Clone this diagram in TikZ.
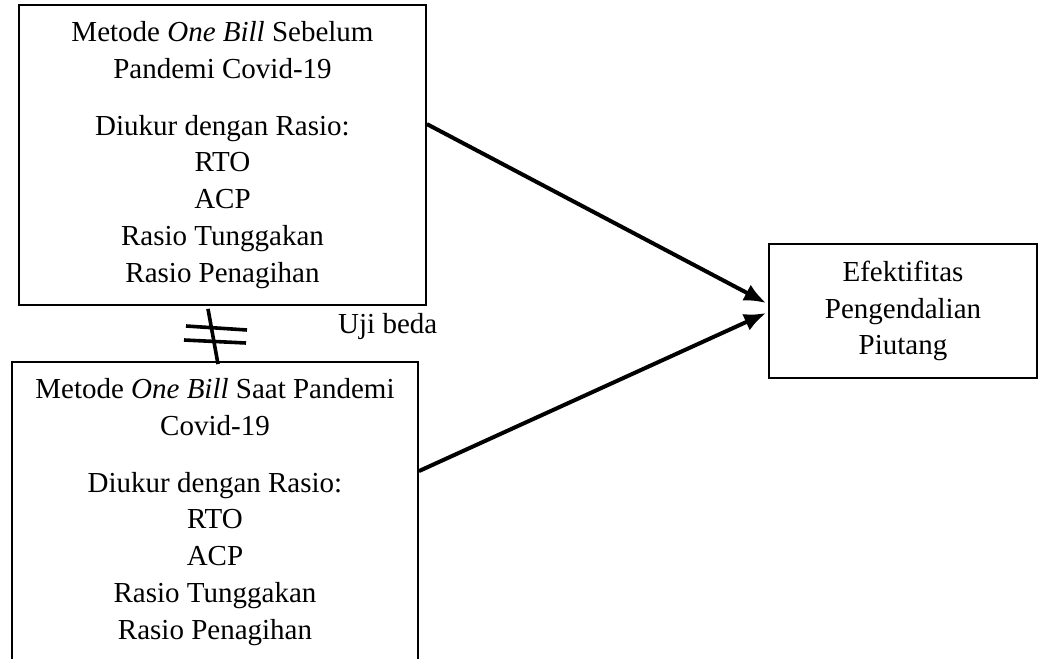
\documentclass[tikz,border=0pt]{standalone}
\usepackage{fontspec}
\setmainfont{Liberation Serif}
\usetikzlibrary{arrows.meta}

\begin{document}
\begin{tikzpicture}[x=1pt, y=-1pt,
    box/.style={draw, rectangle, line width=1.8pt, inner sep=0pt, align=center,
        font=\fontsize{29}{36.7}\selectfont},
    link/.style={line width=4pt, -{Latex[length=22pt,width=18pt]}},
    bar/.style={line width=3.6pt}]

    % Page frame (the lower box runs off the page)
    \clip (0,0) rectangle (1043,658);

    % The two methods and the result
    \node[box, minimum width=407pt, minimum height=300pt] (before) at (222.5,155)
        {Metode \textit{One Bill} Sebelum\\ Pandemi Covid-19\\[20pt]
         Diukur dengan Rasio:\\ RTO\\ ACP\\ Rasio Tunggakan\\ Rasio Penagihan};
    \node[box, minimum width=406pt, minimum height=300pt] (during) at (215,512)
        {Metode \textit{One Bill} Saat Pandemi\\ Covid-19\\[20pt]
         Diukur dengan Rasio:\\ RTO\\ ACP\\ Rasio Tunggakan\\ Rasio Penagihan};
    \node[box, minimum width=268pt, minimum height=134pt] (result) at (903,311)
        {Efektifitas\\ Pengendalian\\ Piutang};

    % Arrows to the result
    \draw[link] ([yshift=-120pt]before.north east) -- ([xshift=-2pt,yshift=8pt]result.west);
    \draw[link] ([yshift=-110pt]during.north east) -- ([xshift=-2pt,yshift=-2pt]result.west);

    % Not-equal sign between the two methods
    \draw[bar] ([xshift=-14.5pt,yshift=-3pt]before.south) -- ([xshift=3pt,yshift=-3pt]during.north);
    \draw[bar] (186,326) -- (247,330);
    \draw[bar] (184,340) -- (246,343);
    \node[font=\fontsize{29}{36.7}\selectfont, inner sep=0pt, anchor=base west] (test) at (338,333) {Uji beda};
\end{tikzpicture}
\end{document}
